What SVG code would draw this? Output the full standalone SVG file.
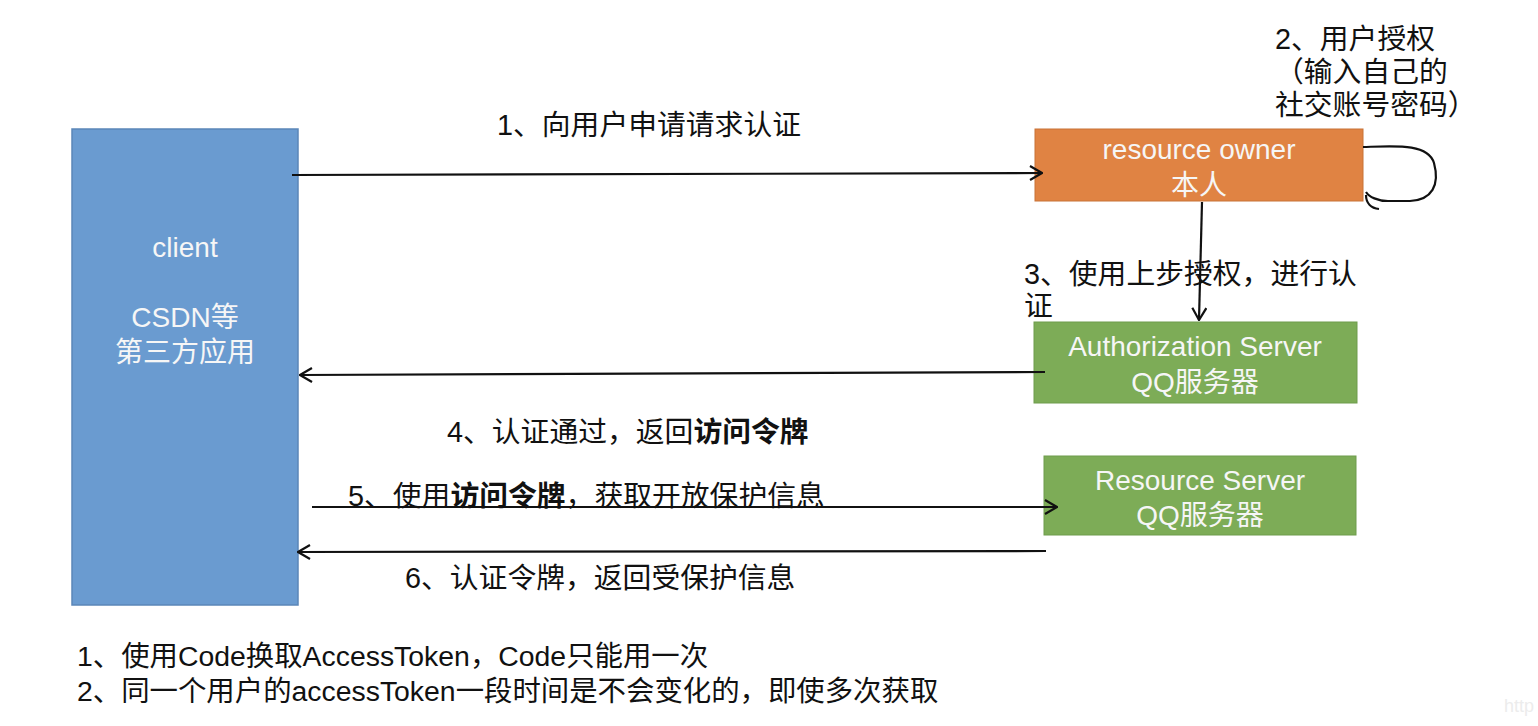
<svg xmlns="http://www.w3.org/2000/svg" width="1538" height="726" viewBox="0 0 1538 726">
<defs>
<style>
.t{font-family:"Liberation Sans","Noto Sans CJK SC",sans-serif;font-size:28.8px;fill:#111}
.n{font-size:28.4px}
.w{font-family:"Liberation Sans","Noto Sans CJK SC",sans-serif;font-size:28px;fill:#f6f6f6;text-anchor:middle}
.c{stroke:#111;stroke-width:2.2;fill:none}
.b{font-weight:bold}
</style>
<marker id="ah" viewBox="0 0 14 16" markerWidth="14" markerHeight="16" refX="13" refY="8" orient="auto" markerUnits="userSpaceOnUse">
<path d="M1,1 L13,8 L1,15" fill="none" stroke="#111" stroke-width="2.2"/>
</marker>
</defs>
<rect width="1538" height="726" fill="#fff"/>

<g id="client">
<rect x="72" y="129" width="226" height="476" fill="#6a9bd0" stroke="#5b86b8" stroke-width="1.5"/>
<text class="w" x="185" y="257">client</text>
<text class="w" x="185" y="327">CSDN等</text>
<text class="w" x="185" y="362">第三方应用</text>
</g>

<g id="resource-owner">
<rect x="1035" y="129" width="328" height="72" fill="#e08343" stroke="#c87236" stroke-width="1"/>
<text class="w" x="1199" y="159">resource owner</text>
<text class="w" x="1199" y="195">本人</text>
</g>

<g id="authorization-server">
<rect x="1034" y="322" width="323" height="81" fill="#7dac57" stroke="#6f9c4c" stroke-width="1"/>
<text class="w" x="1195" y="356">Authorization Server</text>
<text class="w" x="1195" y="392">QQ服务器</text>
</g>

<g id="resource-server">
<rect x="1044" y="456" width="312" height="79" fill="#7dac57" stroke="#6f9c4c" stroke-width="1"/>
<text class="w" x="1200" y="490">Resource Server</text>
<text class="w" x="1200" y="525">QQ服务器</text>
</g>

<g id="connectors">
<line class="c" x1="292" y1="175" x2="1042" y2="173" marker-end="url(#ah)"/>
<path class="c" stroke-width="2.8" d="M1363,147 C1395,146 1428,143 1434,163 C1440,185 1432,200 1410,201 L1388,201 C1378,201 1369,197 1366,192 M1366,195 C1366,203 1371,208 1379,209"/>
<line class="c" x1="1202" y1="202" x2="1199" y2="320" marker-end="url(#ah)"/>
<line class="c" x1="1045" y1="372" x2="300" y2="375" marker-end="url(#ah)"/>
<line class="c" x1="312" y1="507" x2="1057" y2="507" marker-end="url(#ah)"/>
<line class="c" x1="1046" y1="551" x2="298" y2="552" marker-end="url(#ah)"/>
</g>

<g id="labels">
<text class="t" x="497" y="135">1、向用户申请请求认证</text>
<text class="t" x="1275" y="49">2、用户授权</text>
<text class="t" x="1275" y="82">（输入自己的</text>
<text class="t" x="1275" y="115">社交账号密码）</text>
<text class="t" x="1024" y="284">3、使用上步授权，进行认</text>
<text class="t" x="1024" y="316">证</text>
<text class="t" x="447" y="442">4、认证通过，返回<tspan class="b">访问令牌</tspan></text>
<text class="t" x="348" y="506">5、使用<tspan class="b">访问令牌</tspan>，获取开放保护信息</text>
<text class="t" x="405" y="588">6、认证令牌，返回受保护信息</text>
<text class="t n" x="77" y="666">1、使用Code换取AccessToken，Code只能用一次</text>
<text class="t n" x="77" y="701">2、同一个用户的accessToken一段时间是不会变化的，即使多次获取</text>
<text x="1504" y="712" font-family="Liberation Sans, sans-serif" font-size="18" fill="#ececec">http</text>
</g>
</svg>
